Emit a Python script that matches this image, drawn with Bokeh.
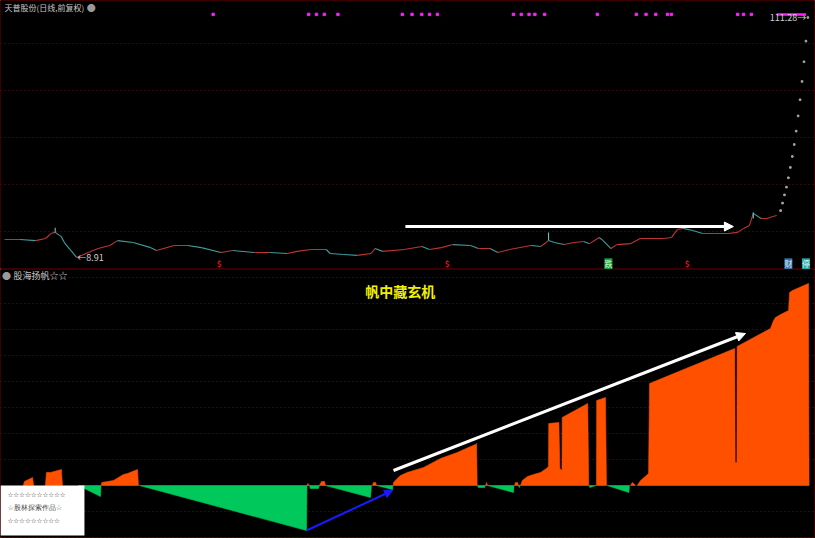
from bokeh.plotting import figure
from bokeh.layouts import column
from bokeh.models import Range1d, Label, Arrow, NormalHead, BoxAnnotation, FixedTicker
from bokeh.embed import file_html
from bokeh.resources import INLINE

FONT = "Noto Sans CJK SC"

# ---------------- data ----------------
# trading-day index and close price of the daily K line
price_days = [0, 8, 16, 21, 24, 26, 29, 31, 34, 37,
              43, 48, 54, 58, 66, 75, 78, 87, 94, 101,
              111, 117, 128, 136, 145, 150, 157, 165, 167, 174,
              181, 188, 190, 194, 205, 214, 218, 224, 230, 239,
              243, 249, 253, 259, 270, 275, 279, 282, 287, 292,
              297, 300, 305, 307, 311, 314, 321, 326, 331, 338,
              342, 345, 348, 353, 358, 364, 371, 376, 379, 382,
              384, 388, 391, 394, 396]
price_close = [16.6, 16.6, 16.1, 17.0, 19.2, 19.6, 17.9, 14.9, 11.9, 8.91,
               11.0, 12.7, 14.0, 16.1, 15.3, 13.1, 11.9, 14.0, 14.0, 13.1,
               11.0, 11.9, 11.0, 11.0, 10.6, 11.5, 12.3, 12.3, 10.6, 10.2,
               9.8, 10.6, 12.7, 11.5, 12.3, 13.6, 12.3, 13.1, 14.4, 14.0,
               12.7, 12.7, 11.0, 12.3, 14.0, 13.6, 16.1, 15.3, 14.4, 15.3,
               15.7, 14.8, 17.4, 16.1, 12.7, 14.4, 14.8, 17.0, 17.0, 17.0,
               17.4, 20.8, 21.3, 20.4, 19.1, 19.1, 19.1, 19.6, 21.3, 22.5,
               27.7, 25.5, 25.5, 26.4, 26.8]
# upper shadows
wick_days = [26, 279, 384]
wick_low = [19.6, 16.1, 25.5]
wick_high = [21.6, 19.6, 28.2]
# one-price limit-up days at the end
limit_days = [398, 399, 400, 401, 402, 403, 404, 405, 406, 407, 408, 409, 410, 411, 412]
limit_close = [28.9, 32.1, 35.6, 38.9, 42.9, 47.3, 52.0, 57.1, 62.8, 69.3, 76.2, 84.0, 92.4, 101.2, 111.28]
max_price = 111.28
min_price = 8.91
min_day = 37
max_day = 412

price_grid = [20, 40, 60, 80, 100]
signal_level = 112.6
signal_days = [107, 156, 160, 164, 171, 204, 209, 214, 218, 222, 261, 265, 269, 272, 277,
               304, 324, 329, 334, 340, 342, 376, 379, 383]
signal_run = [396, 411]
dollar_days = [110, 227, 350]
marker_level = 6.2
tag_days = [309.7, 402.0, 411.0]
tag_text = ["跌", "财", "停"]
tag_bg = ["#1f9a3c", "#3b6fa3", "#2aa3a3"]
tag_fg = ["#c8ffc8", "#dcecff", "#dcffff"]

# indicator: positive (orange) and negative (green) areas, vertices (day, value)
pos_days = [
    [9.7, 10.2, 14.4, 14.9],
    [21.0, 21.5, 23.6, 29.2, 29.7],
    [49.7, 49.9, 55.9, 61.0, 63.1, 68.2, 68.7],
    [155.1, 155.6, 156.4],
    [161.5, 162.6, 164.1, 164.6],
    [188.7, 189.2, 190.3, 190.8],
    [199.3, 199.5, 201.4, 203.1, 206.5, 214.9, 223.6, 232.2, 239.0, 241.5, 242.1, 242.4],
    [246.7, 247.2, 247.7],
    [261.5, 262.1, 263.1, 263.6],
    [264.6, 265.6, 268.2, 271.3, 274.9, 277.9, 279.0, 279.1, 284.3, 284.8, 285.9, 286.0, 299.1, 299.6],
    [303.6, 303.7, 308.2, 308.7],
    [321.0, 322.0, 323.6],
    [324.5, 326.2, 330.3, 330.8, 374.5, 374.7, 375.6, 375.7, 392.8, 394.4, 395.4, 398.0, 402.1, 402.6, 404.1, 412.3, 412.6],
]
pos_vals = [
    [0, 4, 8, 0],
    [0, 13, 13, 16, 0],
    [0, 3, 5, 11, 12, 16, 0],
    [0, 2, 0],
    [0, 4, 4, 0],
    [0, 3, 3, 0],
    [0, 3, 7, 10, 13, 18, 27, 33, 39, 41, 42, 0],
    [0, 3, 0],
    [0, 3, 3, 0],
    [0, 5, 9, 11, 13, 17, 19, 62, 63, 17, 15, 68, 82, 0],
    [0, 85, 88, 0],
    [0, 3, 0],
    [0, 5, 12, 102, 137, 23, 23, 139, 157, 165, 168, 171, 175, 193, 195, 202, 0],
]
neg_days = [
    [37.9, 49.2, 49.5],
    [69.2, 154.9, 155.1],
    [156.4, 156.8, 161.0, 161.5],
    [164.6, 187.7, 188.2],
    [190.8, 199.0, 199.2],
    [242.5, 243.0, 246.2, 246.6],
    [247.7, 261.0, 261.3],
    [263.6, 264.0, 264.5],
    [299.7, 300.2, 303.4],
    [309.1, 320.2, 320.5],
]
neg_vals = [
    [0, -11, 0],
    [0, -45, 0],
    [0, -3, -3, 0],
    [0, -12, 0],
    [0, -4, 0],
    [0, -2, -2, 0],
    [0, -7, 0],
    [0, -2, 0],
    [0, -2, 0],
    [0, -7, 0],
]
ind_grid = [-52, -26, 26, 52, 78, 104, 130, 156, 182, 208]

# ---------------- figures ----------------
W, H1, H2 = 815, 269, 269
xr = Range1d(-2.05, 415.9)


def make_fig(h, yr):
    p = figure(width=W, height=h, x_range=xr, y_range=Range1d(*yr),
               output_backend="svg", toolbar_location=None,
               x_axis_location=None, y_axis_location=None, min_border=0,
               background_fill_color="black", border_fill_color="black")
    p.outline_line_color = "#3a0000"
    p.xgrid.visible = False
    p.ygrid.grid_line_color = "#6a1010"
    p.ygrid.grid_line_dash = "1 3"
    p.ygrid.grid_line_width = 1
    return p


# ---- top: price panel ----
p1 = make_fig(H1, (3.77, 118.53))
p1.ygrid.ticker = FixedTicker(ticks=price_grid)

seg_col = ["#c03434" if b >= a else "#3f9c9c" for a, b in zip(price_close[:-1], price_close[1:])]
p1.segment(x0=price_days[:-1], y0=price_close[:-1], x1=price_days[1:], y1=price_close[1:],
           line_color=seg_col, line_width=1.1)
p1.segment(x0=wick_days, y0=wick_low, x1=wick_days, y1=wick_high, line_color="#6cc0c0", line_width=1.1)
p1.scatter(limit_days, limit_close, marker="square", size=1.6, color="#a8a8a8")

p1.scatter(signal_days, [signal_level] * len(signal_days), marker="square", size=2.4,
           color="#ff20ff")
p1.segment(x0=[signal_run[0]], y0=[signal_level], x1=[signal_run[1]], y1=[signal_level],
           line_color="#ff20ff", line_width=2.5)

p1.add_layout(Arrow(end=NormalHead(size=9, fill_color="white", line_color="white"),
                    x_start=205.6, y_start=22.1, x_end=373.8, y_end=22.1,
                    line_color="white", line_width=3))

p1.add_layout(Label(x=0, y=115.6, text="天普股份(日线,前复权)", text_font=FONT,
                    text_font_size="8px", text_color="#c8c8c8", text_baseline="middle"))
p1.add_layout(Label(x=44.5, y=115.6, text="●", text_font=FONT, text_font_size="9px",
                    text_color="#9a9a9a", text_baseline="middle", text_align="center"))
p1.add_layout(Label(x=max_day - 0.8, y=max_price, text="111.28→", text_font=FONT,
                    text_font_size="9px", text_color="#d0d0d0", text_baseline="middle",
                    text_align="right"))
p1.add_layout(Label(x=min_day + 0.3, y=min_price, text="←8.91", text_font=FONT,
                    text_font_size="9px", text_color="#d0d0d0", text_baseline="middle"))
for d in dollar_days:
    p1.add_layout(Label(x=d, y=marker_level, text="$", text_font=FONT, text_font_size="8px",
                        text_font_style="bold", text_color="#e01010", text_align="center",
                        text_baseline="middle"))
for d, t, bg, fg in zip(tag_days, tag_text, tag_bg, tag_fg):
    p1.add_layout(Label(x=d, y=marker_level, text=t, text_font=FONT, text_font_size="8px",
                        text_color=fg, text_align="center", text_baseline="middle",
                        background_fill_color=bg, background_fill_alpha=1.0))

# ---- bottom: indicator panel ----
p2 = make_fig(H2, (-53, 216))
p2.ygrid.ticker = FixedTicker(ticks=ind_grid)
p2.patches(xs=pos_days, ys=pos_vals, fill_color="#ff5000", line_color="#ff5000", line_width=0.6)
p2.patches(xs=neg_days, ys=neg_vals, fill_color="#00c85a", line_color="#00c85a", line_width=0.6)

p2.add_layout(Arrow(end=NormalHead(size=9, fill_color="white", line_color="white"),
                    x_start=199.5, y_start=15, x_end=380, y_end=152,
                    line_color="white", line_width=3))
p2.add_layout(Arrow(end=NormalHead(size=8, fill_color="#1a1aff", line_color="#1a1aff"),
                    x_start=154.9, y_start=-45, x_end=199, y_end=-5,
                    line_color="#1a1aff", line_width=2))

p2.add_layout(Label(x=1.0, y=210, text="●", text_font=FONT, text_font_size="9px",
                    text_color="#9a9a9a", text_baseline="middle", text_align="center"))
p2.add_layout(Label(x=4.6, y=210, text="股海扬帆☆☆", text_font=FONT, text_font_size="9px",
                    text_color="#c8c8c8", text_baseline="middle"))
p2.add_layout(Label(x=203, y=195, text="帆中藏玄机", text_font=FONT, text_font_size="14px",
                    text_font_style="bold", text_color="#f0f000", text_baseline="middle",
                    text_align="center"))

p2.add_layout(BoxAnnotation(left=-2.05, right=41, top=0, bottom=-50, fill_color="white",
                            fill_alpha=1.0, line_color=None))
for yv, t in [(-9, "☆☆☆☆☆☆☆☆☆☆"), (-35, "☆☆☆☆☆☆☆☆☆")]:
    p2.add_layout(Label(x=1.5, y=yv, text=t, text_font="DejaVu Sans", text_font_size="6.5px",
                        text_color="#444444", text_baseline="middle"))
p2.add_layout(Label(x=1.5, y=-22, text="☆股林探索作品☆", text_font="DejaVu Sans",
                    text_font_size="7px", text_color="#444444", text_baseline="middle"))

layout = column(p1, p2, spacing=0)
open("out.html", "w").write(file_html(layout, INLINE, title="天普股份"))
